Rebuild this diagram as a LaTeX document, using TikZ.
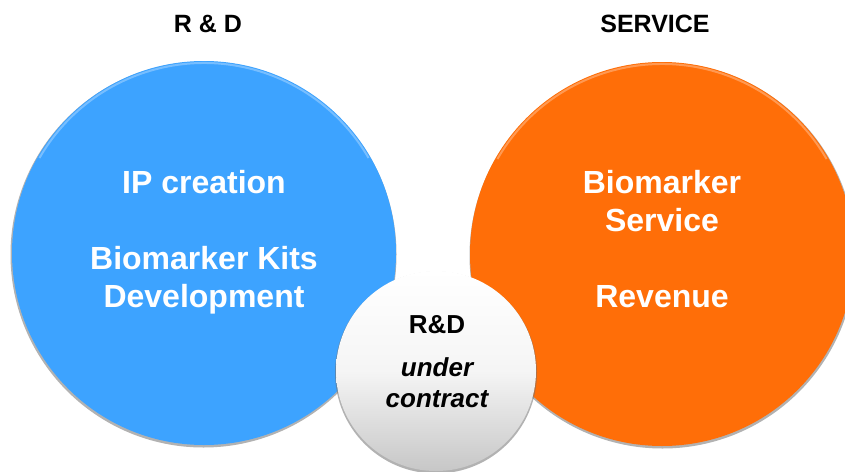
\documentclass[tikz,border=0pt]{standalone}
\usepackage{fontspec}
\setmainfont{Liberation Sans}
\definecolor{rdblue}{HTML}{3DA3FF}
\definecolor{svorange}{HTML}{FF6E08}
\begin{document}
\begin{tikzpicture}[x=1pt,y=-1pt,
  bigcirc/.style={circle,minimum size=384pt,inner sep=0pt},
  shadowcirc/.style={circle,inner sep=0pt,fill=black!55,opacity=0.55},
  bevel/.style={white,opacity=0.3,line width=2pt},
  title/.style={anchor=base,font=\fontsize{25}{30}\selectfont\bfseries,text=black},
  intext/.style={anchor=base,font=\fontsize{32}{38.4}\selectfont\bfseries,text=white},
  smalltext/.style={anchor=base,font=\fontsize{26}{31}\selectfont\bfseries,text=black},
  smallit/.style={anchor=base,font=\fontsize{26}{31}\selectfont\bfseries\itshape,text=black}]
\useasboundingbox (0,0) rectangle (845,471);
\begin{scope}
\clip (0,0) rectangle (845,471);
% shadows
\node[shadowcirc,minimum size=386pt] (blueshadow) at (203.5,254.5) {};
\node[shadowcirc,minimum size=386pt] (orangeshadow) at (662.5,255.5) {};
% big circles
\node[bigcirc,fill=rdblue] (blue) at (204,253) {};
\node[bigcirc,fill=svorange] (orange) at (662,254) {};
% top bevel highlights
\draw[bevel] (204,253) ++(-150:190) arc[start angle=-150,end angle=-30,radius=190];
\draw[bevel] (662,254) ++(-150:190) arc[start angle=-150,end angle=-30,radius=190];
% small circle
\node[shadowcirc,minimum size=202pt] (whiteshadow) at (436,372.5) {};
\node[circle,minimum size=200pt,inner sep=0pt,top color=white,bottom color=black!22,middle color=white!96!black] (white) at (436,371) {};
\end{scope}
% titles
\node[title] (t1) at (208,32) {R \& D};
\node[title] (t2) at (655,32) {SERVICE};
% blue texts
\node[intext] (b1) at (204,193) {IP creation};
\node[intext] (b2) at (204,269) {Biomarker Kits};
\node[intext] (b3) at (204,307) {Development};
% orange texts
\node[intext] (o1) at (662,193) {Biomarker};
\node[intext] (o2) at (662,231) {Service};
\node[intext] (o3) at (662,307) {Revenue};
% white texts
\node[smalltext] (w1) at (437,333) {R\&D};
\node[smallit] (w2) at (437,376) {under};
\node[smallit] (w3) at (437,407) {contract};
\end{tikzpicture}
\end{document}
